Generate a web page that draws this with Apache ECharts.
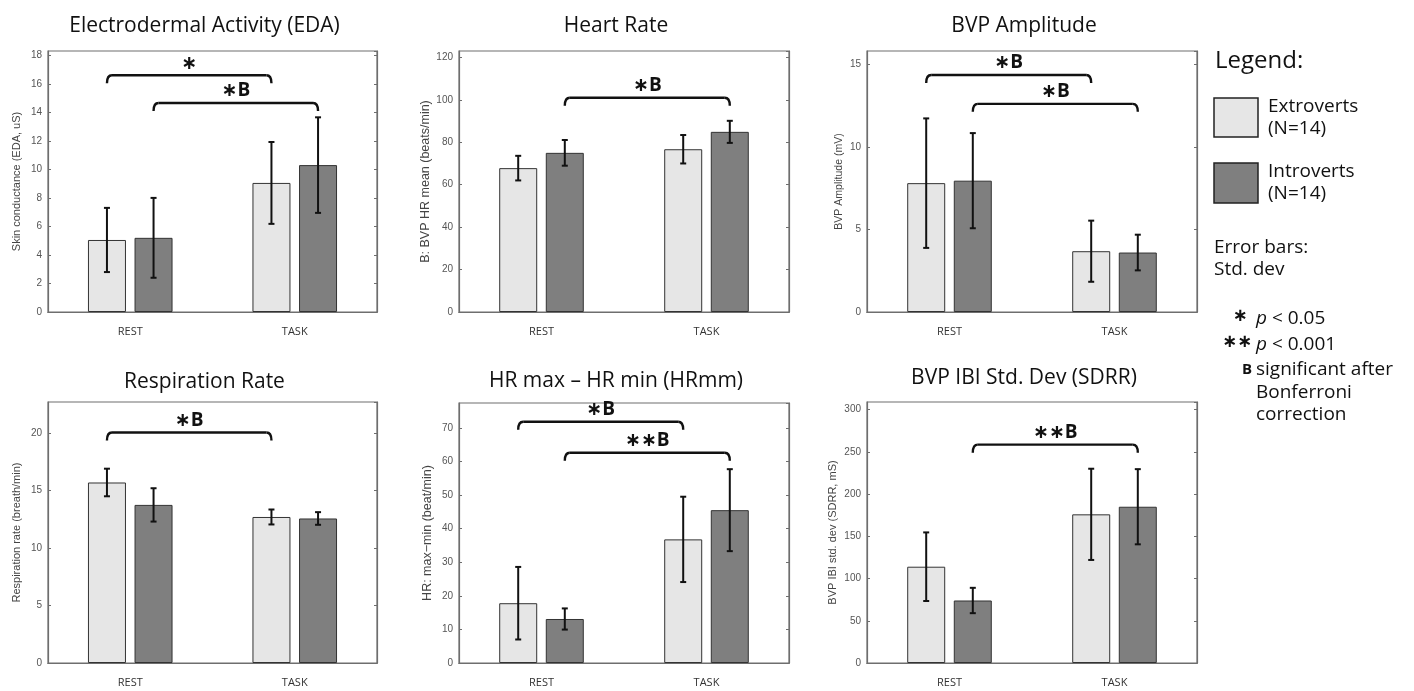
<!DOCTYPE html>
<html>
<head>
<meta charset="utf-8">
<script src="https://cdn.jsdelivr.net/npm/echarts@6/dist/echarts.min.js"></script>
<style>
  html, body { margin: 0; background: #fff; }
  #chart { width: 1414px; height: 691px; }
</style>
</head>
<body>
<div id="chart"></div>
<script>
const categories = ["REST", "TASK"];
const groupNames = ["Extroverts (N=14)", "Introverts (N=14)"];

// means / std devs: row 0 = extroverts, row 1 = introverts; columns = REST, TASK
const edaMean = [[5.05, 9.05], [5.2, 10.3]];
const edaSd = [[2.25, 2.87], [2.8, 3.35]];
const hrMean = [[67.8, 76.7], [75, 84.9]];
const hrSd = [[5.8, 6.7], [6.05, 5.2]];
const bvpMean = [[7.8, 3.68], [7.95, 3.6]];
const bvpSd = [[3.92, 1.85], [2.88, 1.08]];
const respMean = [[15.7, 12.7], [13.75, 12.57]];
const respSd = [[1.2, 0.65], [1.45, 0.55]];
const hrmmMean = [[17.8, 36.8], [13.1, 45.5]];
const hrmmSd = [[10.8, 12.7], [3.15, 12.2]];
const sdrrMean = [[114, 176], [74, 185]];
const sdrrSd = [[40.6, 54], [15, 44.5]];

// significance brackets: [fromCategory, fromGroup, toCategory, toGroup, yValue, label]
const edaBrackets = [[0, 0, 1, 0, 16.6, "∗"], [0, 1, 1, 1, 14.65, "∗B"]];
const hrBrackets = [[0, 1, 1, 1, 101, "∗B"]];
const bvpBrackets = [[0, 0, 1, 0, 14.35, "∗B"], [0, 1, 1, 1, 12.6, "∗B"]];
const respBrackets = [[0, 0, 1, 0, 20.05, "∗B"]];
const hrmmBrackets = [[0, 0, 1, 0, 71.8, "∗B"], [0, 1, 1, 1, 62.6, "∗∗B"]];
const sdrrBrackets = [[0, 1, 1, 1, 258.5, "∗∗B"]];

// y axis extents and tick steps
const yMax = [18.3, 123, 15.8, 22.7, 77.4, 309];
const yStep = [2, 20, 5, 5, 10, 50];

const panels = [
  { title: "Electrodermal Activity (EDA)", yName: "Skin conductance (EDA, uS)", mean: edaMean, sd: edaSd, brackets: edaBrackets },
  { title: "Heart Rate", yName: "B: BVP HR mean (beats/min)", mean: hrMean, sd: hrSd, brackets: hrBrackets },
  { title: "BVP Amplitude", yName: "BVP Amplitude (mV)", mean: bvpMean, sd: bvpSd, brackets: bvpBrackets },
  { title: "Respiration Rate", yName: "Respiration rate (breath/min)", mean: respMean, sd: respSd, brackets: respBrackets },
  { title: "HR max – HR min (HRmm)", yName: "HR: max−min (beat/min)", mean: hrmmMean, sd: hrmmSd, brackets: hrmmBrackets },
  { title: "BVP IBI Std. Dev (SDRR)", yName: "BVP IBI std. dev (SDRR, mS)", mean: sdrrMean, sd: sdrrSd, brackets: sdrrBrackets },
];

// layout (pixels)
const layout = [
  { left: 48, top: 51, width: 329, height: 261, titleY: 26, nameSize: 11, nameGap: 26 },
  { left: 459, top: 51, width: 330, height: 261, titleY: 26, nameSize: 12.5, nameGap: 27 },
  { left: 867, top: 51, width: 330, height: 261, titleY: 26, nameSize: 10.5, nameGap: 22 },
  { left: 48, top: 402, width: 329, height: 261, titleY: 382, nameSize: 11, nameGap: 26 },
  { left: 459, top: 403, width: 330, height: 260, titleY: 381, nameSize: 12.5, nameGap: 25 },
  { left: 867, top: 402, width: 330, height: 261, titleY: 378, nameSize: 11, nameGap: 29 },
];

const BAR_W = 38;
const BAR_OFFSET = 23.3;
const LIGHT = "#e6e6e6";
const DARK = "#7f7f7f";
const AXIS = "#6e6e6e";
const INK = "#111";

const groupOffset = (g) => (g === 0 ? -BAR_OFFSET : BAR_OFFSET);

const grids = [], xAxes = [], yAxes = [], series = [], graphics = [];

panels.forEach((p, i) => {
  const L = layout[i];
  grids.push({ left: L.left, top: L.top, width: L.width, height: L.height, show: true, borderColor: AXIS, borderWidth: 1.2 });

  const catBase = {
    type: "category", gridIndex: i, data: categories,
    axisLine: { lineStyle: { color: AXIS, width: 1.2 } },
    axisTick: { inside: true, alignWithLabel: true, length: 3, lineStyle: { color: AXIS } },
  };
  xAxes.push({ ...catBase, position: "bottom",
    axisLabel: { color: "#333", fontSize: 11, fontFamily: "Open Sans", margin: 14 } });
  xAxes.push({ ...catBase, position: "top", axisLabel: { show: false } });

  const valBase = {
    type: "value", gridIndex: i, min: 0, max: yMax[i], interval: yStep[i],
    splitLine: { show: false },
    axisLine: { show: true, lineStyle: { color: AXIS, width: 1.2 } },
    axisTick: { show: true, inside: true, length: 3, lineStyle: { color: AXIS } },
  };
  yAxes.push({ ...valBase, position: "left",
    name: p.yName, nameLocation: "middle", nameGap: L.nameGap,
    nameTextStyle: { color: "#444", fontSize: L.nameSize, fontFamily: "Liberation Sans" },
    axisLabel: { color: "#555", fontSize: 10, fontFamily: "Liberation Sans", margin: 6, showMaxLabel: false } });
  yAxes.push({ ...valBase, position: "right", axisLabel: { show: false } });

  [0, 1].forEach((g) => {
    series.push({
      type: "bar", name: groupNames[g], xAxisIndex: 2 * i, yAxisIndex: 2 * i,
      data: p.mean[g], barWidth: BAR_W, barGap: "22.6%",
      itemStyle: { color: g === 0 ? LIGHT : DARK, borderColor: "#333", borderWidth: 1 },
      silent: true, z: 2,
    });
  });

  // error bars
  const errData = [];
  [0, 1].forEach((g) => categories.forEach((c, k) => errData.push([k, p.mean[g][k], p.sd[g][k], g])));
  series.push({
    type: "custom", xAxisIndex: 2 * i, yAxisIndex: 2 * i, z: 5, silent: true,
    data: errData,
    renderItem: (params, api) => {
      const k = api.value(0), m = api.value(1), s = api.value(2), g = api.value(3);
      const hi = api.coord([k, m + s]);
      const lo = api.coord([k, m - s]);
      const x = hi[0] + groupOffset(g);
      const st = { stroke: INK, lineWidth: 2 };
      return {
        type: "group",
        children: [
          { type: "line", shape: { x1: x, y1: hi[1], x2: x, y2: lo[1] }, style: st },
          { type: "line", shape: { x1: x - 3, y1: hi[1], x2: x + 3, y2: hi[1] }, style: st },
          { type: "line", shape: { x1: x - 3, y1: lo[1], x2: x + 3, y2: lo[1] }, style: st },
        ],
      };
    },
  });

  // significance brackets
  series.push({
    type: "custom", xAxisIndex: 2 * i, yAxisIndex: 2 * i, z: 6, silent: true,
    data: p.brackets.map((b) => [b[0], b[4]]),
    renderItem: (params, api) => {
      const b = p.brackets[params.dataIndex];
      const y = api.coord([b[0], b[4]])[1];
      const x1 = api.coord([b[0], 0])[0] + groupOffset(b[1]);
      const x2 = api.coord([b[2], 0])[0] + groupOffset(b[3]);
      const r = 5, drop = 8;
      const st = { stroke: INK, lineWidth: 2.4, fill: null };
      return {
        type: "group",
        children: [
          { type: "bezierCurve", shape: { x1: x1, y1: y + drop, cpx1: x1, cpy1: y, x2: x1 + r, y2: y }, style: st },
          { type: "line", shape: { x1: x1 + r, y1: y, x2: x2 - r, y2: y }, style: st },
          { type: "bezierCurve", shape: { x1: x2 - r, y1: y, cpx1: x2, cpy1: y, x2: x2, y2: y + drop }, style: st },
          { type: "text", x: (x1 + x2) / 2, y: y - 12,
            style: { text: b[5], align: "center", verticalAlign: "middle", fill: INK, font: "bold 19px 'Open Sans', 'DejaVu Sans'" } },
        ],
      };
    },
  });

  // panel title, centred a little left of the plot centre
  graphics.push({
    type: "text", x: L.left + L.width / 2 - 8, y: L.titleY,
    style: { text: p.title, fill: "#111", font: "21px 'Open Sans'", align: "center", verticalAlign: "middle" },
  });
});

// legend block
const legendFont = "19px 'Open Sans'";
const italic = { i: { font: "italic 19px 'Open Sans'" } };
graphics.push(
  { type: "text", x: 1215, y: 61, style: { text: "Legend:", fill: "#111", font: "24px 'Open Sans'", verticalAlign: "middle" } },
  { type: "rect", shape: { x: 1214, y: 98, width: 44, height: 39 }, style: { fill: LIGHT, stroke: "#222", lineWidth: 1.5 } },
  { type: "text", x: 1268, y: 107, style: { text: "Extroverts", fill: "#111", font: legendFont, verticalAlign: "middle" } },
  { type: "text", x: 1268, y: 129, style: { text: "(N=14)", fill: "#111", font: legendFont, verticalAlign: "middle" } },
  { type: "rect", shape: { x: 1214, y: 163, width: 44, height: 40 }, style: { fill: DARK, stroke: "#222", lineWidth: 1.5 } },
  { type: "text", x: 1268, y: 172, style: { text: "Introverts", fill: "#111", font: legendFont, verticalAlign: "middle" } },
  { type: "text", x: 1268, y: 194, style: { text: "(N=14)", fill: "#111", font: legendFont, verticalAlign: "middle" } },
  { type: "text", x: 1214, y: 248, style: { text: "Error bars:", fill: "#111", font: legendFont, verticalAlign: "middle" } },
  { type: "text", x: 1214, y: 270, style: { text: "Std. dev", fill: "#111", font: legendFont, verticalAlign: "middle" } },
  { type: "text", x: 1240, y: 316, style: { text: "∗", fill: "#111", font: "bold 18px 'DejaVu Sans'", align: "center", verticalAlign: "middle" } },
  { type: "text", x: 1256, y: 319, style: { text: "{i|p} < 0.05", fill: "#111", font: legendFont, verticalAlign: "middle", rich: italic } },
  { type: "text", x: 1237, y: 342, style: { text: "∗∗", fill: "#111", font: "bold 18px 'DejaVu Sans'", align: "center", verticalAlign: "middle" } },
  { type: "text", x: 1256, y: 345, style: { text: "{i|p} < 0.001", fill: "#111", font: legendFont, verticalAlign: "middle", rich: italic } },
  { type: "text", x: 1242, y: 370, style: { text: "B", fill: "#111", font: "bold 15px 'Open Sans'", verticalAlign: "middle" } },
  { type: "text", x: 1256, y: 370, style: { text: "significant after", fill: "#111", font: legendFont, verticalAlign: "middle" } },
  { type: "text", x: 1256, y: 393, style: { text: "Bonferroni", fill: "#111", font: legendFont, verticalAlign: "middle" } },
  { type: "text", x: 1256, y: 415, style: { text: "correction", fill: "#111", font: legendFont, verticalAlign: "middle" } }
);

const chart = echarts.init(document.getElementById("chart"), null, { renderer: "canvas" });
chart.setOption({
  animation: false,
  backgroundColor: "#fff",
  grid: grids,
  xAxis: xAxes,
  yAxis: yAxes,
  series: series,
  graphic: graphics,
});
</script>
</body>
</html>
